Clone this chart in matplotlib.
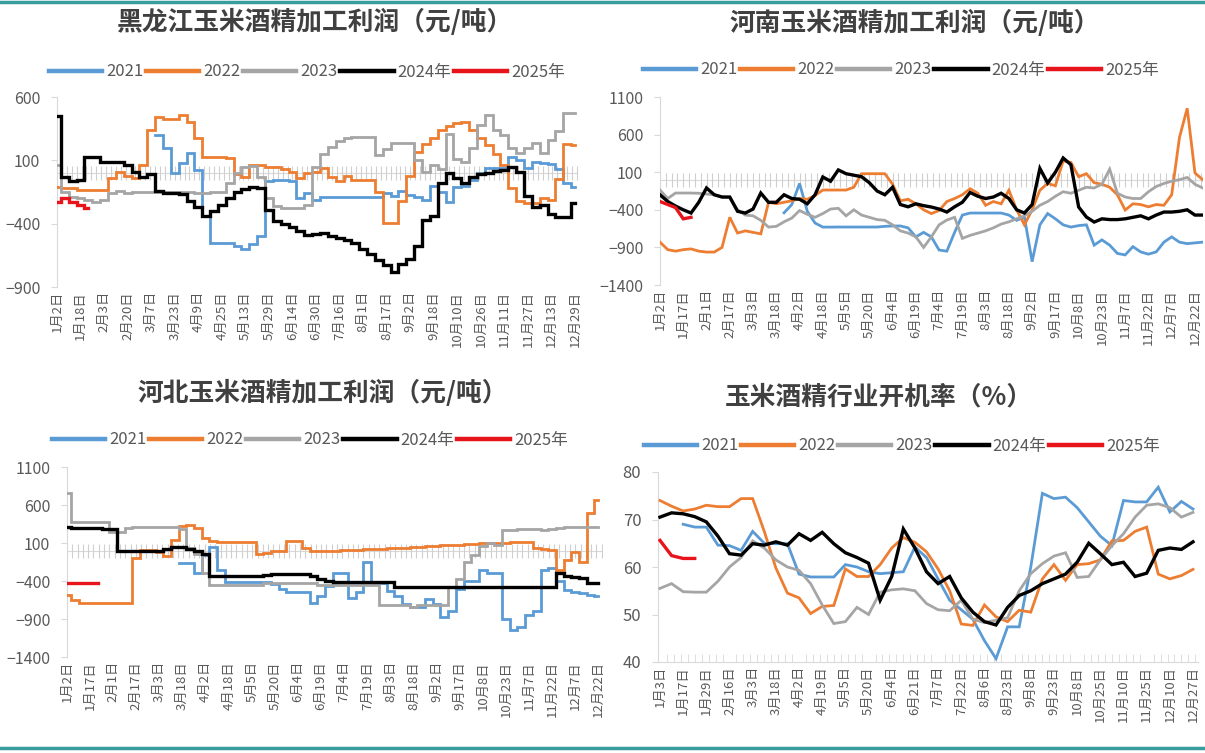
import numpy as np
import matplotlib.pyplot as plt
from matplotlib.lines import Line2D

plt.rcParams['font.family'] = ['Noto Sans CJK SC', 'DejaVu Sans']

# ---------------- data ----------------
years = ['2021', '2022', '2023', '2024年', '2025年']
colors = ['#5b9bd5', '#ed7d31', '#a5a5a5', '#000000', '#e8141c']
widths = [2.0, 2.0, 2.0, 2.4, 2.4]

# 黑龙江 : one value every 4 trading days, labels every 12
hlj_labels = ['1月2日', '1月18日', '2月3日', '2月20日', '3月7日', '3月23日', '4月9日', '4月25日',
              '5月13日', '5月29日', '6月14日', '6月30日', '7月16日', '8月1日', '8月17日', '9月2日',
              '9月18日', '10月10日', '10月26日', '11月11日', '11月27日', '12月13日', '12月29日']
hlj_2021 = [None] * 13 + [300, 200, 0, 80, 158, 20, -340, -553, -553, -553, -580, -600, -560, -500,
                          -60, -55, -55, -60, -200, -160, -213, -190, -190, -190, -190, -190, -190,
                          -190, -190, -160, -180, -140, -170, -190, -210, -100, -150, -230, -110, -100,
                          -55, 0, 40, 40, 40, 126, 100, 40, 90, 80, 70, 30, -80, -110]
hlj_2022 = [-110, -120, -120, -134, -134, -134, -134, -40, 5, -20, -40, 60, 340, 440, 430, 430, 455,
            400, 280, 130, 126, 126, 120, -10, -30, 60, 60, 47, 47, 30, 10, -40, 0, 8, 40, -30, -60,
            -20, -55, -55, -55, -150, -395, -395, -220, -20, 165, 230, 280, 340, 370, 395, 400, 340,
            280, 220, 150, 60, -120, -220, -237, -240, -200, -213, -50, 230, 220]
hlj_2023 = [60, -150, -190, -200, -210, -230, -210, -160, -140, -155, -150, -150, -150, -150, -150,
            -150, -150, -150, -155, -155, -150, -150, -80, 0, 50, 55, -30, -200, -260, -276, -276,
            -276, -250, 47, 150, 205, 250, 280, 284, 284, 284, 140, 190, 237, 237, 237, 100, 10, 60,
            30, 310, 110, 90, 200, 380, 460, 340, 300, 200, 160, 200, 237, 160, 260, 330, 470, 470]
hlj_2024 = [450, -30, -60, -55, 126, 126, 87, 87, 90, 60, 5, -30, -10, -140, -160, -160, -165, -220,
            -270, -340, -300, -250, -200, -150, -130, -110, -120, -290, -380, -400, -430, -460, -490,
            -480, -470, -500, -510, -530, -553, -600, -640, -690, -730, -780, -720, -680, -580, -370,
            -340, -80, 0, -40, -80, -30, -10, 0, 15, 24, 45, 10, -180, -268, -250, -320, -347, -350,
            -240]
hlj_2025 = [-230, -200, -230, -250, -280]

# 河南
hn_labels = ['1月2日', '1月17日', '2月1日', '2月17日', '3月3日', '3月18日', '4月2日', '4月18日',
             '5月5日', '5月20日', '6月4日', '6月19日', '7月4日', '7月19日', '8月3日', '8月18日',
             '9月2日', '9月17日', '10月8日', '10月23日', '11月7日', '11月22日', '12月7日', '12月22日']
hn_2021 = [None] * 16 + [-440, -330, -50, -420, -576, -630, -630, -629, -629, -629, -629, -629, -629,
                         -620, -615, -615, -640, -760, -700, -760, -935, -950, -700, -470, -443, -443,
                         -443, -443, -443, -470, -540, -496, -1090, -600, -450, -520, -600, -630, -610,
                         -600, -870, -800, -870, -980, -1000, -890, -960, -990, -960, -830, -760, -830,
                         -850, -840, -830]
hn_2022 = [-830, -930, -950, -930, -920, -950, -962, -962, -900, -500, -709, -680, -700, -720, -300,
           -320, -300, -280, -250, -260, -210, -137, -137, -137, -137, -100, 80, 80, 80, 80, -60, -280,
           -260, -320, -400, -450, -410, -290, -250, -200, -120, -180, -340, -290, -320, -140, -400,
           -600, -400, -140, -50, -80, 250, 230, 40, 80, -40, -60, -100, -200, -403, -320, -330, -360,
           -330, -340, -200, 560, 950, 90, 0]
hn_2023 = [-137, -250, -177, -177, -177, -180, -190, -200, -230, -240, -400, -470, -480, -540, -630,
           -620, -560, -510, -410, -460, -500, -450, -390, -380, -480, -400, -470, -500, -530, -540,
           -600, -680, -709, -760, -900, -760, -600, -536, -500, -780, -740, -710, -680, -640, -590,
           -560, -520, -480, -420, -340, -290, -220, -160, -180, -140, -100, -110, -60, 140, -180,
           -230, -250, -250, -160, -90, -50, -20, 0, 30, -60, -110]
hn_2024 = [-200, -290, -350, -400, -443, -300, -110, -200, -230, -230, -420, -443, -390, -177, -300,
           -300, -200, -250, -260, -320, -200, 36, -20, 130, 80, 60, 40, -40, -150, -200, -100, -330,
           -360, -320, -345, -363, -390, -430, -360, -300, -170, -220, -250, -230, -180, -250, -400,
           -443, -330, 150, -43, 100, 289, 200, -363, -496, -563, -520, -530, -530, -520, -500, -480,
           -520, -470, -430, -430, -420, -400, -470, -470]
hn_2025 = [-290, -330, -370, -520, -500]

# 河北
hb_labels = hn_labels
hb_2021 = [None] * 15 + [-163, -163, -290, -60, 47, -250, -413, -413, -413, -413, -413, -413, -440,
                         -500, -545, -550, -550, -690, -600, -470, -300, -300, -620, -550, -150, -420,
                         -427, -530, -600, -700, -740, -740, -640, -700, -880, -790, -500, -400, -400,
                         -260, -300, -295, -900, -1050, -1000, -850, -800, -255, -230, -400, -520,
                         -540, -560, -580, -600]
hb_2022 = [-585, -650, -690, -690, -690, -690, -690, -690, -690, -100, 8, 8, -20, -70, 140, 330, 340,
           300, 170, 130, 113, 113, 113, 113, 113, -40, -30, 0, 0, 120, 130, 40, 0, 0, -5, 0, 5, 10,
           10, 15, 20, 25, 30, 35, 40, 45, 50, 55, 60, 70, 75, 80, 85, 90, 95, 100, 105, 105, 110,
           113, 113, 40, 20, 10, -250, -120, -20, -150, 500, 660]
hb_2023 = [760, 380, 376, 376, 376, 376, 245, 245, 300, 310, 310, 310, 310, 310, 310, 290, 40, -50,
           -300, -453, -453, -453, -453, -453, -453, -453, -427, -427, -427, -427, -427, -427, -427,
           -453, -453, -453, -453, -453, -453, -453, -453, -716, -716, -716, -716, -742, -716, -716,
           -716, -716, -479, -380, -150, -60, 60, 100, 80, 271, 271, 280, 290, 280, 270, 290, 300,
           310, 310, 310, 310, 310]
hb_2024 = [310, 300, 297, 297, 297, 290, 290, 0, 0, 0, 0, 0, 0, 20, 47, 47, 20, 0, -40, -334, -334,
           -334, -334, -334, -334, -334, -320, -310, -308, -308, -308, -308, -340, -380, -400, -413,
           -413, -413, -413, -413, -413, -413, -413] + [-479] * 21 + [-295, -330, -350, -360, -427, -427]
hb_2025 = [-430, -430, -430, -430, -430]

# 开机率 : weekly, labels every 2 weeks
kgl_labels = ['1月3日', '1月17日', '1月29日', '2月16日', '3月3日', '3月18日', '4月2日', '4月19日',
              '5月5日', '5月20日', '6月4日', '6月21日', '7月7日', '7月22日', '8月6日', '8月23日',
              '9月8日', '9月23日', '10月8日', '10月25日', '11月10日', '11月25日', '12月10日', '12月27日']
kgl_2021 = [None, None, 69.0, 68.4, 68.4, 64.6, 64.5, 63.5, 67.5, 65.0, 64.9, 64.9, 58.5, 57.9, 57.9,
            57.9, 60.5, 60.0, 59.0, 58.6, 58.8, 59.0, 64.2, 62.0, 57.5, 53.0, 51.0, 49.0, 44.5, 40.7,
            47.4, 47.4, 60.0, 75.5, 74.4, 74.7, 72.5, 69.5, 66.5, 64.5, 74.0, 73.7, 73.7, 76.8, 71.6,
            73.8, 72.2]
kgl_2022 = [74.0, 72.8, 71.8, 72.2, 73.0, 72.7, 72.7, 74.4, 74.4, 67.5, 59.8, 54.5, 53.5, 50.2, 51.7,
            51.9, 59.6, 58.0, 58.0, 60.5, 64.0, 66.2, 65.2, 63.2, 59.6, 55.0, 48.0, 47.7, 52.0, 49.5,
            48.5, 50.9, 50.5, 57.5, 60.5, 57.2, 60.5, 60.7, 61.5, 65.5, 65.6, 67.5, 68.4, 58.5, 57.5,
            58.2, 59.5]
kgl_2023 = [55.5, 56.5, 54.8, 54.7, 54.7, 57.0, 60.0, 62.0, 65.5, 64.0, 61.5, 60.0, 59.3, 56.5, 52.0,
            48.1, 48.5, 51.5, 50.0, 54.7, 55.2, 55.4, 55.0, 52.3, 51.0, 50.8, 53.0, 49.0, 48.3, 48.8,
            49.3, 55.0, 58.6, 60.7, 62.3, 63.0, 57.8, 58.0, 61.5, 64.5, 67.0, 70.5, 73.0, 73.3, 72.5,
            70.5, 71.5]
kgl_2024 = [70.5, 71.4, 71.2, 70.6, 69.5, 66.5, 62.8, 62.5, 64.9, 64.6, 65.3, 64.6, 67.0, 65.6, 67.3,
            64.9, 63.0, 62.0, 60.8, 53.0, 58.0, 68.0, 64.0, 59.0, 56.5, 58.0, 53.5, 50.5, 48.5, 47.8,
            51.5, 54.0, 55.0, 56.5, 57.5, 58.5, 61.0, 65.0, 62.8, 60.5, 61.0, 58.0, 58.7, 63.5, 64.0,
            63.7, 65.3]
kgl_2025 = [65.6, 62.4, 61.8, 61.8]

GRID = '#d9d9d9'
TXT = '#595959'


def draw_panel(rect, series, step, label_every, labels, xlim, ylim, yticks, hatch_step,
               zero_axis=True, drawstyle='default', ysize=11.5):
    ax = fig.add_axes(rect)
    for vals, c, w in zip(series, colors, widths):
        y = np.array(vals, dtype=float)
        x = np.arange(len(y)) * step
        ax.plot(x, y, color=c, lw=w, drawstyle=drawstyle, solid_joinstyle='miter', zorder=3)
    ax.set_xlim(*xlim)
    ax.set_ylim(*ylim)
    ax.set_yticks(yticks)
    ax.set_xticks(np.arange(len(labels)) * label_every)
    ax.set_xticklabels(labels, rotation=90, fontsize=9.5, color=TXT)
    ax.tick_params(axis='y', labelsize=ysize, labelcolor=TXT, color=GRID, length=4, pad=8)
    ax.tick_params(axis='x', length=0, pad=3)
    for s in ['top', 'right']:
        ax.spines[s].set_visible(False)
    ax.spines['left'].set_color(GRID)
    if zero_axis:
        ax.spines['bottom'].set_visible(False)
        ax.axhline(0, color=GRID, lw=0.8, zorder=1)
        hx = np.arange(0, xlim[1], hatch_step)
        ax.plot(hx, np.zeros(len(hx)), ls='none', marker='|', ms=10, mew=0.8, color='#cfcfcf', zorder=1)
    else:
        ax.spines['bottom'].set_color(GRID)
        ax.set_xticks(np.arange(0, xlim[1], 0.6), minor=True)
        ax.tick_params(axis='x', which='minor', direction='in', length=6, color=GRID)
    return ax


def legend_at(cx, cy):
    handles = [Line2D([], [], color=c, lw=3.2) for c in colors]
    fig.legend(handles, years, loc='center', bbox_to_anchor=(cx, cy), ncol=5, frameon=False,
               fontsize=12, labelcolor=TXT, handlelength=3.2, handletextpad=0.25, columnspacing=0.15)


fig = plt.figure(figsize=(12.05, 7.53), dpi=100)
W, H = 1205.0, 753.0


def rect(l, t, r, b):
    return [l / W, 1 - b / H, (r - l) / W, (b - t) / H]


TSIZE = 18.5

# 黑龙江
draw_panel(rect(57, 97, 578, 287), [hlj_2021, hlj_2022, hlj_2023, hlj_2024, hlj_2025], 4, 12,
           hlj_labels, (0, 265.5), (-900, 600), [-900, -400, 100, 600], 2.5, drawstyle='steps-mid')
fig.text(315 / W, 1 - 22 / H, '黑龙江玉米酒精加工利润（元/吨）', ha='center', va='center',
         fontsize=TSIZE, color='#404040', fontweight='bold')
legend_at(307 / W, 1 - 72 / H)

# 河南
draw_panel(rect(660, 97, 1202.7, 285), [hn_2021, hn_2022, hn_2023, hn_2024, hn_2025], 4, 12,
           hn_labels, (0, 280), (-1400, 1100), [-1400, -900, -400, 100, 600, 1100], 3)
fig.text(915 / W, 1 - 23 / H, '河南玉米酒精加工利润（元/吨）', ha='center', va='center',
         fontsize=TSIZE, color='#404040', fontweight='bold')
legend_at(901 / W, 1 - 70 / H)

# 河北
draw_panel(rect(67, 467, 602, 657), [hb_2021, hb_2022, hb_2023, hb_2024, hb_2025], 4, 12,
           hb_labels, (0, 277.9), (-1400, 1100), [-1400, -900, -400, 100, 600, 1100], 2.75,
           drawstyle='steps-mid')
fig.text(323 / W, 1 - 393 / H, '河北玉米酒精加工利润（元/吨）', ha='center', va='center',
         fontsize=TSIZE, color='#404040', fontweight='bold')
legend_at(310 / W, 1 - 440 / H)

# 开机率
draw_panel(rect(658, 472, 1198, 662), [kgl_2021, kgl_2022, kgl_2023, kgl_2024, kgl_2025], 1, 2,
           kgl_labels, (-0.17, 46.43), (40, 80), [40, 50, 60, 70, 80], 1, zero_axis=False, ysize=12)
fig.text(879 / W, 1 - 397 / H, '玉米酒精行业开机率（%）', ha='center', va='center',
         fontsize=TSIZE, color='#404040', fontweight='bold')
legend_at(902 / W, 1 - 446 / H)

# teal frame lines
fig.add_artist(Line2D([0, 1], [1 - 1.5 / H, 1 - 1.5 / H], color='#3a9d9d', lw=2.5, transform=fig.transFigure))
fig.add_artist(Line2D([0, 1], [1 - 748 / H, 1 - 748 / H], color='#3a9d9d', lw=2.5, transform=fig.transFigure))

fig.savefig('out.png', dpi=100)
